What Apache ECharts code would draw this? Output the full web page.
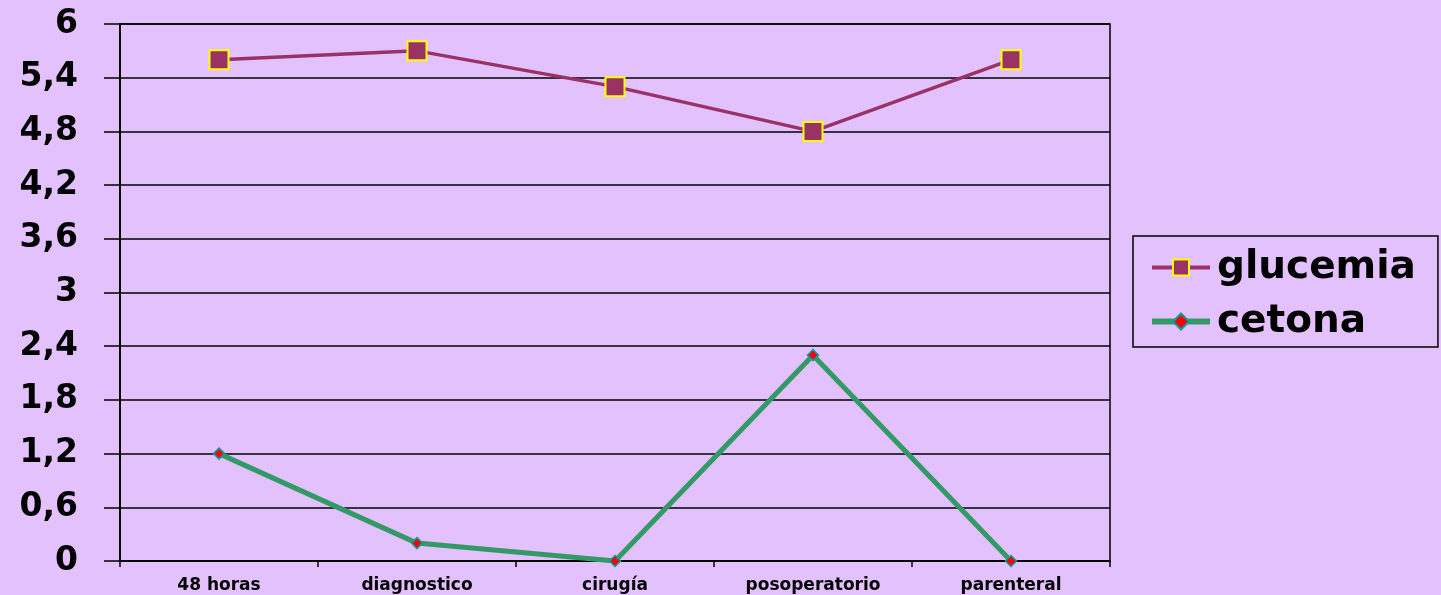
<!DOCTYPE html>
<html>
<head>
<meta charset="utf-8">
<script src="https://cdn.jsdelivr.net/npm/echarts@6/dist/echarts.min.js"></script>
<style>
html,body{margin:0;padding:0;background:#E3C1FD;}
#c{width:1441px;height:595px;}
</style>
</head>
<body>
<div id="c"></div>
<script>
const categories = ['48 horas', 'diagnostico', 'cirugía', 'posoperatorio', 'parenteral'];
const glucemia = [5.6, 5.7, 5.3, 4.8, 5.6];
const cetona = [1.2, 0.2, 0, 2.3, 0];
const yTicks = [0, 0.6, 1.2, 1.8, 2.4, 3, 3.6, 4.2, 4.8, 5.4, 6];

const FONT = 'DejaVu Sans, Arial, sans-serif';
const chart = echarts.init(document.getElementById('c'));
chart.setOption({
  backgroundColor: '#E3C1FD',
  animation: false,
  textStyle: { fontFamily: FONT },
  grid: { left: 120, right: 331, top: 24, bottom: 34, show: true, borderColor: '#000', borderWidth: 1.5, backgroundColor: 'transparent' },
  legend: {
    orient: 'vertical',
    left: 1133, top: 236,
    padding: [12, 22, 6, 16],
    borderColor: '#000', borderWidth: 1.5,
    itemWidth: 58, itemHeight: 20, itemGap: 15,
    textStyle: { fontSize: 39, fontWeight: 'bold', color: '#000', fontFamily: FONT, padding: [0, 0, 0, 2] },
    data: [
      { name: 'glucemia', lineStyle: { width: 4 } },
      { name: 'cetona', lineStyle: { width: 6 } }
    ]
  },
  xAxis: {
    type: 'category',
    data: categories,
    boundaryGap: true,
    axisLine: { lineStyle: { color: '#000', width: 2 } },
    axisTick: { show: true, length: 6, lineStyle: { color: '#000', width: 1.5 } },
    axisLabel: { color: '#000', fontSize: 17, fontWeight: 'bold', margin: 16, fontFamily: FONT }
  },
  yAxis: {
    type: 'value',
    min: 0, max: 6, interval: 0.6,
    axisLine: { show: true, lineStyle: { color: '#000', width: 2 } },
    axisTick: { show: true, length: 16, lineStyle: { color: '#000', width: 1.5 } },
    splitLine: { show: true, lineStyle: { color: '#000', width: 1.5 } },
    axisLabel: {
      color: '#000', fontSize: 33, fontWeight: 'bold', margin: 42,
      fontFamily: FONT, padding: [5, 0, 0, 0],
      formatter: function (v) {
        const t = yTicks.find(x => Math.abs(x - v) < 1e-6);
        return String(t !== undefined ? t : v).replace('.', ',');
      }
    }
  },
  series: [
    {
      name: 'glucemia', type: 'line', data: glucemia,
      symbol: 'rect', symbolSize: 19,
      lineStyle: { color: '#993366', width: 3.5 },
      itemStyle: { color: '#993366', borderColor: '#FFFF00', borderWidth: 2 },
      z: 3
    },
    {
      name: 'cetona', type: 'line', data: cetona,
      symbol: 'diamond', symbolSize: 11,
      lineStyle: { color: '#339966', width: 5 },
      itemStyle: { color: '#FF0000', borderColor: '#00A0A0', borderWidth: 1.5 },
      z: 4
    }
  ]
});
</script>
</body>
</html>
